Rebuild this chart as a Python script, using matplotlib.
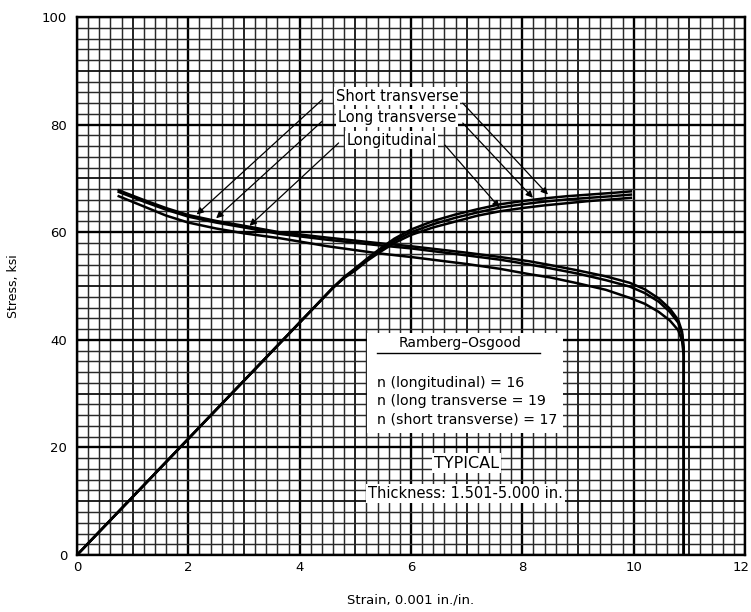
import numpy as np
import matplotlib
matplotlib.use('Agg')
from matplotlib import pyplot as plt
from matplotlib.patches import Rectangle
from matplotlib.transforms import ScaledTranslation

# stress-strain curves (strain 0.001 in./in., stress ksi)
ss_strain_st = [0, 4.6, 4.8, 5.0, 5.2, 5.44, 5.7, 6.0, 6.4, 6.8, 7.2, 7.6, 8.0, 8.4, 8.8, 9.2, 9.6, 9.95]
ss_stress_st = [0, 49.7, 51.7, 53.3, 55.0, 56.9, 58.8, 60.5, 62.1, 63.3, 64.3, 65.2, 65.8, 66.3, 66.7, 67.0, 67.3, 67.6]
ss_strain_lt = [0, 4.6, 4.8, 5.0, 5.2, 5.44, 5.7, 6.0, 6.4, 6.8, 7.2, 7.6, 8.0, 8.4, 8.8, 9.2, 9.6, 9.95]
ss_stress_lt = [0, 49.7, 51.6, 53.1, 54.8, 56.6, 58.4, 60.0, 61.5, 62.7, 63.7, 64.6, 65.2, 65.7, 66.1, 66.4, 66.7, 67.0]
ss_strain_l = [0, 4.6, 4.8, 5.0, 5.2, 5.44, 5.7, 6.0, 6.4, 6.8, 7.2, 7.6, 8.0, 8.4, 8.8, 9.2, 9.6, 9.95]
ss_stress_l = [0, 49.7, 51.5, 52.9, 54.6, 56.3, 58.0, 59.5, 60.9, 62.0, 63.1, 63.9, 64.5, 65.0, 65.4, 65.8, 66.1, 66.4]

# tangent-modulus type curves
tm_x_upper = [0.75, 1.2, 1.6, 2.0, 2.5, 3.0, 3.64, 4.5, 5.4, 6.0, 7.0, 7.6, 8.13, 8.5, 9.0, 9.5, 9.93,
              10.2, 10.45, 10.65, 10.8, 10.87, 10.9, 10.9]
tm_y_upper = [67.8, 66.0, 64.5, 63.2, 62.1, 61.2, 60.0, 59.0, 58.0, 57.4, 56.2, 55.4, 54.6, 53.9, 52.9, 51.8, 50.6,
              49.4, 47.7, 45.8, 43.7, 41.5, 38.5, 0]
tm_x_mid = [0.75, 1.2, 1.6, 2.0, 2.5, 3.0, 3.64, 4.5, 5.4, 6.0, 7.0, 7.6, 8.13, 8.5, 9.0, 9.5, 9.93,
            10.2, 10.45, 10.65, 10.8, 10.87, 10.9, 10.9]
tm_y_mid = [67.5, 65.7, 64.2, 62.9, 61.8, 60.9, 59.7, 58.6, 57.6, 57.0, 55.7, 54.9, 54.0, 53.3, 52.3, 51.1, 49.9,
            48.7, 47.1, 45.2, 43.2, 41.0, 38.0, 0]
tm_x_lower = [0.75, 1.2, 1.6, 2.0, 2.5, 3.0, 3.64, 4.5, 5.4, 6.0, 7.0, 7.6, 8.13, 8.5, 9.0, 9.5, 9.93,
              10.2, 10.45, 10.65, 10.8, 10.87, 10.9, 10.9]
tm_y_lower = [66.7, 64.8, 63.1, 61.8, 60.7, 59.8, 58.9, 57.4, 56.1, 55.4, 54.1, 53.2, 52.2, 51.6, 50.5, 49.3, 47.8,
              46.7, 45.2, 43.6, 41.8, 39.8, 37.0, 0]

labels = ['Short transverse', 'Long transverse', 'Longitudinal']
label_pos = [(5.75, 85.3), (5.75, 81.3), (5.65, 77.1)]
left_tail = [(4.40, 84.6), (4.40, 80.6), (4.70, 76.6)]
left_tip = [(2.15, 63.3), (2.5, 62.6), (3.1, 61.2)]
right_tail = [(6.93, 84.0), (6.93, 80.3), (6.61, 76.2)]
right_tip = [(8.46, 67.0), (8.19, 66.4), (7.59, 64.6)]

n_lines = ['n (longitudinal) = 16', 'n (long transverse = 19', 'n (short transverse) = 17']

fig = plt.figure(figsize=(7.51, 6.12), dpi=100)
ax = fig.add_axes([0.1025, 0.0931, 0.8895, 0.879])
plt.rcParams['font.family'] = ['DejaVu Sans']

ax.set_xlim(0, 12)
ax.set_ylim(0, 100)

# graph-paper grid
for xv in np.arange(0, 12.01, 0.2):
    if abs(xv / 2 - round(xv / 2)) < 1e-6:
        lw, c = 1.7, 'black'
    elif abs(xv - round(xv)) < 1e-6:
        lw, c = 1.3, '#111111'
    else:
        lw, c = 1.05, '#2a2a2a'
    ax.axvline(xv, color=c, lw=lw, zorder=1)
for yv in np.arange(0, 100.01, 2):
    if yv % 20 == 0:
        lw, c = 1.7, 'black'
    elif yv % 10 == 0:
        lw, c = 1.3, '#111111'
    else:
        lw, c = 1.05, '#2a2a2a'
    ax.axhline(yv, color=c, lw=lw, zorder=1)

for x, y in [(ss_strain_st, ss_stress_st), (ss_strain_lt, ss_stress_lt), (ss_strain_l, ss_stress_l),
             (tm_x_upper, tm_y_upper), (tm_x_mid, tm_y_mid), (tm_x_lower, tm_y_lower)]:
    ax.plot(x, y, color='black', lw=1.8, solid_joinstyle='round', zorder=4)

for i, lab in enumerate(labels):
    ax.text(label_pos[i][0], label_pos[i][1], lab, ha='center', va='center', fontsize=10.5,
            bbox=dict(fc='white', ec='none', pad=1.0), zorder=6)
    for tail, tip in [(left_tail[i], left_tip[i]), (right_tail[i], right_tip[i])]:
        ax.annotate('', xy=tip, xytext=tail, zorder=5,
                    arrowprops=dict(arrowstyle='-|>', color='black', lw=0.9,
                                    mutation_scale=10, shrinkA=0, shrinkB=0))

# Ramberg-Osgood box
ax.add_patch(Rectangle((5.21, 22.7), 3.52, 18.6, fc='white', ec='none', zorder=5))
ax.text(6.88, 39.4, 'Ramberg\u2013Osgood', ha='center', va='center', fontsize=10, zorder=6)
ax.plot([5.39, 8.31], [37.5, 37.5], color='black', lw=1.0, zorder=6)
for j, t in enumerate(n_lines):
    ax.text(5.39, 32.0 - j * 3.4, t, ha='left', va='center', fontsize=10.2, zorder=6)

ax.text(7.0, 17.1, 'TYPICAL', ha='center', va='center', fontsize=11.5,
        bbox=dict(fc='white', ec='none', pad=1.5), zorder=6)
ax.text(6.98, 11.5, 'Thickness: 1.501-5.000 in.', ha='center', va='center', fontsize=10.5,
        bbox=dict(fc='white', ec='none', pad=1.5), zorder=6)

ax.set_xticks(np.arange(0, 13, 2))
ax.set_yticks(np.arange(0, 101, 20))
ax.tick_params(axis='x', length=0, labelsize=9.5, pad=4)
ax.tick_params(axis='y', length=0, labelsize=9.5, pad=7)
last = ax.get_xticklabels()[-1]
last.set_horizontalalignment('right')
last.set_transform(last.get_transform() + ScaledTranslation(5 / 100, 0, fig.dpi_scale_trans))
for s in ax.spines.values():
    s.set_linewidth(1.7)
    s.set_zorder(7)
ax.set_xlabel('Strain, 0.001 in./in.', fontsize=9.5, labelpad=14)
ax.set_ylabel('Stress, ksi', fontsize=9, labelpad=16)

fig.savefig('out.png', dpi=100)
